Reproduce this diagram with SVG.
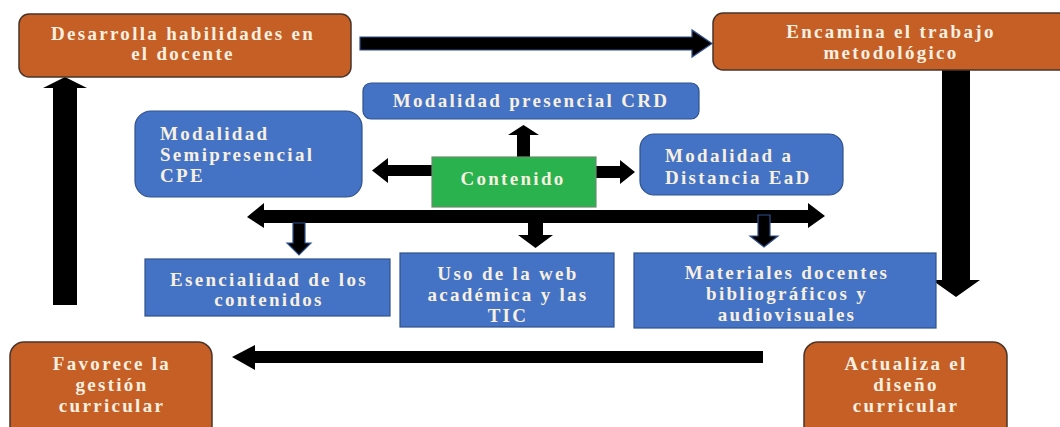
<svg xmlns="http://www.w3.org/2000/svg" width="1060" height="427" viewBox="0 0 1060 427">
<style>
.o{fill:#c55f26;stroke:#4a3528;stroke-width:1.5}
.b{fill:#4472c4;stroke:#2f528f;stroke-width:1.2}
.g{fill:#29b24e;stroke:#6a8f6a;stroke-width:1.2}
.t{font-family:"Liberation Serif",serif;font-weight:bold;font-size:19px;fill:#f7f0e0;letter-spacing:2.3px}
.m{text-anchor:middle}
.a{fill:#000}
.ao{fill:#000;stroke:#2f4f8f;stroke-width:1.2}
</style>
<rect width="1060" height="427" fill="#fff"/>
<g id="connectors">
<polygon class="ao" points="360,37 692,37 692,30 712,43.5 692,57 692,50 360,50"/>
<polygon class="a" points="942,70 970,70 970,280 980,280 956,297 932,280 942,280"/>
<polygon class="a" points="763,351 255,351 255,345 232,357 255,370 255,363 763,363"/>
<polygon class="a" points="53,305 77,305 77,88 87,88 65,77 43,88 53,88"/>
<polygon class="a" points="517,157 530,157 530,135 539,135 523.5,125 508,135 517,135"/>
<polygon class="a" points="432,165 388,165 388,158 372,170.5 388,183 388,176 432,176"/>
<polygon class="a" points="596,166 620,166 620,160 635,172 620,184 620,178 596,178"/>
<polygon class="a" points="264,210 808,210 808,203 825,216 808,228 808,223 264,223 264,228 247,217 264,203"/>
<polygon class="ao" points="293,223 305,223 305,243 311,243 299,255 287,243 293,243"/>
<polygon class="a" points="528,223 543,223 543,235 553,235 535.5,248 518,235 528,235"/>
<polygon class="ao" points="758,215 770,215 770,236 778,236 764,247 750,236 758,236"/>
</g>
<g id="n1"><rect class="o" x="19" y="14" width="332" height="63" rx="10"/>
<text class="t m" x="183" y="40">Desarrolla habilidades en</text><text class="t m" x="183" y="60">el docente</text></g>
<g id="n2"><rect class="o" x="713" y="13" width="360" height="57" rx="10"/>
<text class="t m" x="891" y="38">Encamina el trabajo</text><text class="t m" x="891" y="59">metodológico</text></g>
<g id="n3"><rect class="b" x="363" y="83" width="336" height="36" rx="8"/>
<text class="t m" x="531" y="107">Modalidad presencial CRD</text></g>
<g id="n4"><rect class="b" x="135" y="111" width="227" height="86" rx="16"/>
<text class="t" x="160" y="140">Modalidad</text><text class="t" x="160" y="161">Semipresencial</text><text class="t" x="160" y="182">CPE</text></g>
<g id="n5"><rect class="g" x="432" y="157" width="164" height="50"/>
<text class="t m" x="513" y="185">Contenido</text></g>
<g id="n6"><rect class="b" x="640" y="134" width="203" height="61" rx="14"/>
<text class="t" x="665" y="162">Modalidad a</text><text class="t" x="665" y="184">Distancia EaD</text></g>
<g id="n7"><rect class="b" x="145" y="259" width="245" height="57"/>
<text class="t m" x="269" y="286">Esencialidad de los</text><text class="t m" x="269" y="306">contenidos</text></g>
<g id="n8"><rect class="b" x="400" y="253" width="214" height="74"/>
<text class="t m" x="508" y="280">Uso de la web</text><text class="t m" x="508" y="301">académica y las</text><text class="t m" x="508" y="322">TIC</text></g>
<g id="n9"><rect class="b" x="634" y="253" width="302" height="75"/>
<text class="t m" x="787" y="279">Materiales docentes</text><text class="t m" x="787" y="300">bibliográficos y</text><text class="t m" x="787" y="321">audiovisuales</text></g>
<g id="n10"><rect class="o" x="10" y="342" width="202" height="100" rx="14"/>
<text class="t m" x="112" y="370">Favorece la</text><text class="t m" x="112" y="391">gestión</text><text class="t m" x="112" y="412">curricular</text></g>
<g id="n11"><rect class="o" x="804" y="342" width="203" height="100" rx="14"/>
<text class="t m" x="906" y="370">Actualiza el</text><text class="t m" x="906" y="391">diseño</text><text class="t m" x="906" y="412">curricular</text></g>
</svg>
